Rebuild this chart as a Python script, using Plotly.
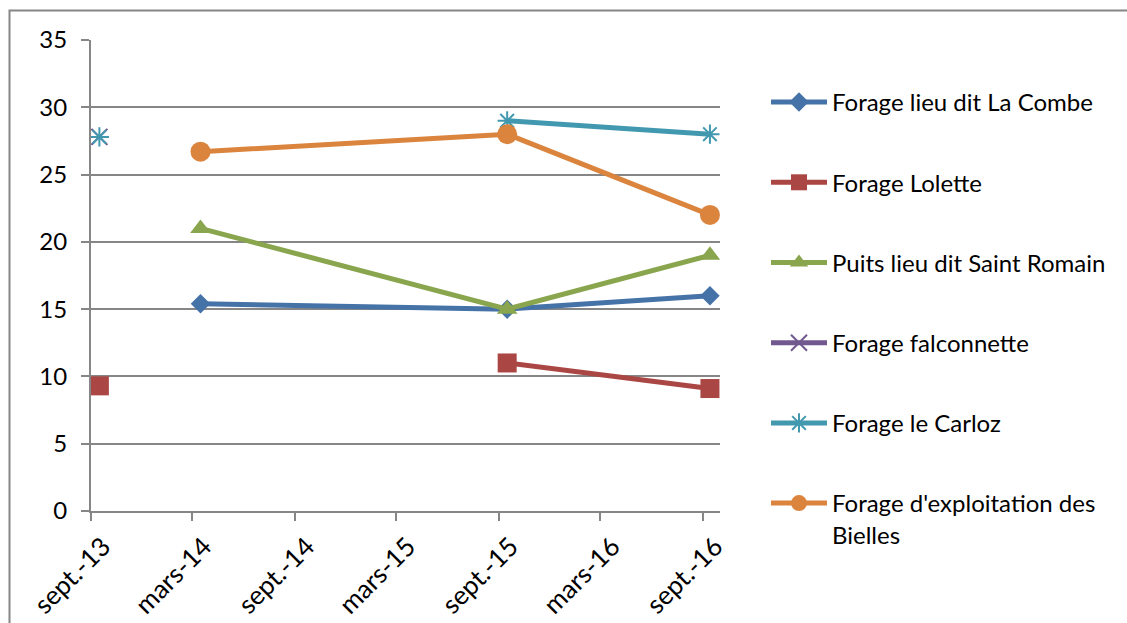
import plotly.graph_objects as go

dates = ["2013-09-16", "2014-03-16", "2015-09-16", "2016-09-13"]
tick_vals = ["2013-09-01", "2014-03-01", "2014-09-01", "2015-03-01", "2015-09-01", "2016-03-01", "2016-09-01"]
tick_text = ["sept.-13", "mars-14", "sept.-14", "mars-15", "sept.-15", "mars-16", "sept.-16"]

la_combe = [None, 15.4, 15.0, 16.0]
lolette = [9.3, None, 11.0, 9.1]
saint_romain = [None, 21.0, 15.0, 19.0]
falconnette = [27.8, None, None, None]
carloz = [27.8, None, 29.0, 28.0]
bielles = [None, 26.7, 28.0, 22.0]

series = [
    ("Forage lieu dit La Combe", la_combe, "#4572A7", "diamond", 15, None),
    ("Forage Lolette", lolette, "#AA4643", "square", 19, None),
    ("Puits lieu dit Saint Romain", saint_romain, "#89A54E", "triangle-up", 18, None),
    ("Forage falconnette", falconnette, "#71588F", "x-thin-open", 16, 2),
    ("Forage le Carloz", carloz, "#4198AF", "asterisk-open", 16, 2),
    ("Forage d'exploitation des<br>Bielles", bielles, "#DB843D", "circle", 20, None),
]

fig = go.Figure()
for i, (name, vals, color, sym, size, lw) in enumerate(series):
    marker = dict(symbol=sym, size=size, color=color)
    if lw:
        marker["line"] = dict(color=color, width=lw)
    fig.add_trace(go.Scatter(
        x=dates, y=vals, name=name, mode="lines+markers",
        line=dict(color=color, width=5), marker=marker,
        connectgaps=False, legendgroup=f"g{i}",
    ))

L, R, T, B = 91, 407, 40, 112
W, H = 1127, 623
pw, ph = W - L - R, H - T - B

def px_x(p):
    return (p - L) / pw

def px_y(p):
    return (H - B - p) / ph

fig.update_layout(
    width=W, height=H,
    margin=dict(l=L, r=R, t=T, b=B, autoexpand=False),
    paper_bgcolor="white", plot_bgcolor="white",
    font=dict(family="Lato, Open Sans, sans-serif", size=24, color="black"),
    showlegend=True,
    legend=dict(
        x=px_x(766), y=px_y(80), xanchor="left", yanchor="top",
        tracegroupgap=46, font=dict(size=24), itemwidth=56,
        bgcolor="rgba(0,0,0,0)", valign="top", maxheight=600,
    ),
    xaxis=dict(
        type="date", range=["2013-09-01", "2016-10-01"],
        tickvals=tick_vals, ticktext=tick_text, tickangle=-45,
        showgrid=False, showline=True, linecolor="#868686", linewidth=2,
        ticks="outside", ticklen=8, tickwidth=2, tickcolor="#868686",
        zeroline=False, tickfont=dict(size=26), ticklabelshift=12,
        automargin=False,
    ),
    yaxis=dict(
        range=[0, 35], tickvals=[0, 5, 10, 15, 20, 25, 30, 35],
        showgrid=True, gridcolor="#868686", gridwidth=2,
        showline=True, linecolor="#868686", linewidth=2,
        ticks="outside", ticklen=8, tickwidth=2, tickcolor="#868686",
        zeroline=False, tickfont=dict(size=24), ticklabelstandoff=9,
        automargin=False,
    ),
    shapes=[dict(
        type="rect", xref="paper", yref="paper",
        x0=px_x(9.5), y0=px_y(640), x1=px_x(1140), y1=px_y(10.5),
        line=dict(color="#868686", width=2), fillcolor="rgba(0,0,0,0)", layer="below",
    )],
)

fig.write_html("out.html")
